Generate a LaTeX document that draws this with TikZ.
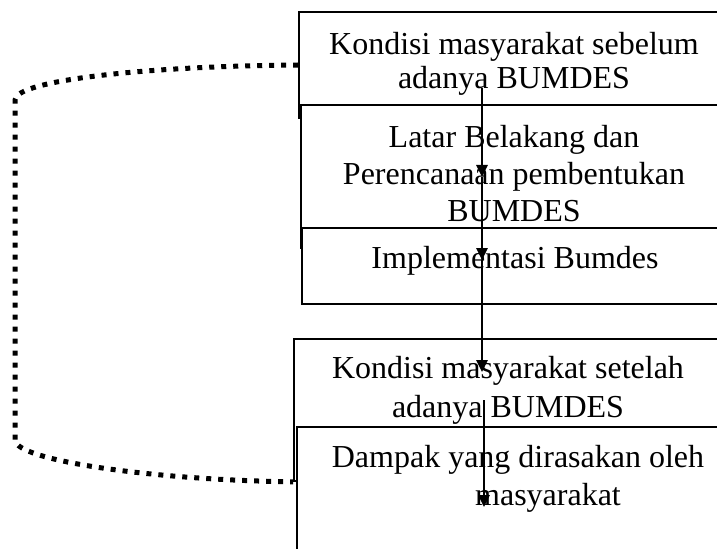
\documentclass[tikz,border=0pt]{standalone}
\usepackage{fontspec}
\setmainfont{Liberation Serif}
\usepackage{tikz}
\usetikzlibrary{positioning,fit,arrows.meta}

\tikzset{
  box/.style={draw, fill=white, line width=1.2pt, inner sep=0pt},
  txt/.style={align=center, anchor=base, inner sep=0pt},
  flow/.style={line width=1.5pt, -{Triangle[length=9pt,width=8.5pt]}},
  loopline/.style={line width=3.75pt, dash pattern=on 3.75pt off 5.25pt}
}

\begin{document}
\begin{tikzpicture}[x=0.75pt,y=0.75pt,yscale=-1]
\useasboundingbox (0,0) rectangle (717,549);
\clip (0,0) rectangle (717,549);

%Shape: Rectangle
\node (b1) [box, fit={(299,12) (730,118)}] {};
%Shape: Rectangle
\node (b2) [box, fit={(301,105) (730,248)}] {};
%Shape: Rectangle
\node (b3) [box, fit={(302,228) (730,304)}] {};
%Shape: Rectangle
\node (b4) [box, fit={(294,339) (730,481)}] {};
%Shape: Rectangle
\node (b5) [box, fit={(297,427) (730,570)}] {};

% Text Node
\draw (514,89) node (t1) [txt, font=\fontsize{24}{25.5}\selectfont] {Kondisi masyarakat sebelum\\adanya BUMDES};
% Text Node
\draw (514,221) node (t2) [txt, font=\fontsize{24}{27.4}\selectfont] {Latar Belakang dan\\Perencanaan pembentukan\\BUMDES};
% Text Node
\draw (515,268) node (t3) [txt, font=\fontsize{24}{27}\selectfont] {Implementasi Bumdes};
% Text Node
\draw (508,417) node (t4) [txt, font=\fontsize{24}{29.2}\selectfont] {Kondisi masyarakat setelah\\adanya BUMDES};
% Text Node
\draw (518,505) node (t5) [txt, font=\fontsize{24}{28.5}\selectfont] {Dampak yang dirasakan oleh\\\hspace*{45pt}masyarakat};

%Straight Lines
\coordinate (a0) at (482,88);
\coordinate (a1) at (482,177);
\coordinate (a2) at (482,260);
\coordinate (a3) at (482,372);
\draw [flow] (a0) -- (a1);
\draw [flow] (a1) -- (a2);
\draw [flow] (a2) -- (a3);

%Straight Lines
\coordinate (c0) at (484,400);
\coordinate (c1) at (484,507);
\draw [flow] (c0) -- (c1);

%Curve Lines
\draw [loopline] (b1.west) .. controls (150,66) and (15,80) .. (15,100) -- (15,440) .. controls (15,460) and (150,480) .. (b4.south west);

\end{tikzpicture}
\end{document}
